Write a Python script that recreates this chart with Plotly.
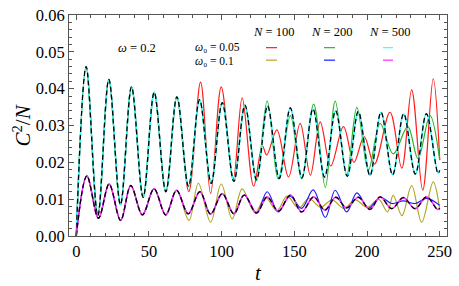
import plotly.graph_objects as go

# ---- data (extrema) ----
t_n500_a = [0, 6.8, 14.8, 22.4, 30.4, 38, 46, 53.6, 61.6, 69.2, 77.2, 84.8, 92.8, 100.4, 108.4, 116, 124,
            131.6, 139.6, 147.2, 155.2, 162.8, 170.8, 178.4, 186.4, 194, 202, 209.6, 217.6, 225.2, 233.2,
            240.8, 248.8, 250]
c_n500_a = [0, 0.046, 0.0055, 0.0425, 0.0085, 0.0405, 0.0105, 0.039, 0.012, 0.0378, 0.0135, 0.037, 0.0143,
            0.0362, 0.0148, 0.0355, 0.0152, 0.0353, 0.0156, 0.0348, 0.0158, 0.0345, 0.016, 0.034, 0.0162,
            0.0338, 0.0164, 0.0336, 0.0166, 0.0332, 0.0168, 0.0332, 0.017, 0.0178]

t_n100_a = [0, 6.8, 14.8, 22.4, 30.4, 38, 46, 53.6, 61.6, 69.2, 77.4, 85.5, 92.4, 99.7, 108, 114.1, 122,
            128, 131, 138, 146, 154, 161, 167.8, 175, 183.8, 191, 198, 205, 215.8, 223.9, 230.7, 238.3,
            245.5, 250]
c_n100_a = [0, 0.046, 0.0055, 0.0425, 0.0085, 0.0405, 0.0105, 0.039, 0.012, 0.0378, 0.012, 0.0418, 0.0115,
            0.0405, 0.0155, 0.0375, 0.0135, 0.0245, 0.022, 0.0288, 0.016, 0.0306, 0.0165, 0.031, 0.019,
            0.0297, 0.02, 0.027, 0.0195, 0.0336, 0.0184, 0.0397, 0.0124, 0.0427, 0.0206]

t_n200_a = [0, 6.8, 14.8, 22.4, 30.4, 38, 46, 53.6, 61.6, 69.2, 77.2, 84.8, 92.8, 100.4, 108.4, 116, 124,
            131.3, 139, 147.3, 155, 163.3, 171.3, 178.1, 186, 193, 201, 209, 218, 228, 235, 243.3, 250]
c_n200_a = [0, 0.046, 0.0055, 0.0425, 0.0085, 0.0405, 0.0105, 0.039, 0.012, 0.0378, 0.0135, 0.037, 0.0143,
            0.0362, 0.0148, 0.0355, 0.0155, 0.0366, 0.0155, 0.0327, 0.0155, 0.0358, 0.0132, 0.0366, 0.0165,
            0.0349, 0.018, 0.0306, 0.0223, 0.0297, 0.021, 0.0327, 0.0206]

t_n500_b = [0, 7.3, 15.3, 22.6, 30.5, 37.5, 45.5, 53.5, 61.5, 69, 77, 85, 92.4, 100.4, 108.4, 115.5, 124,
            131.3, 139, 147.3, 155, 163.3, 171, 178.5, 186, 194, 202, 209, 217, 225, 233, 241, 248.5, 250]
c_n500_b = [0, 0.0163, 0.0048, 0.0141, 0.0042, 0.0137, 0.0057, 0.0128, 0.0057, 0.0124, 0.006, 0.012, 0.0059,
            0.0115, 0.006, 0.0111, 0.0062, 0.0106, 0.0067, 0.0111, 0.0065, 0.0106, 0.007, 0.0105, 0.0076,
            0.0105, 0.0072, 0.0106, 0.0074, 0.0104, 0.0074, 0.0106, 0.0072, 0.0075]

t_n100_b = [0, 7.3, 15.3, 22.6, 30.5, 37.5, 45.5, 53.5, 61.5, 69, 77.5, 84, 92.4, 99.7, 107.3, 114.1, 123,
            130, 138, 145, 153, 160, 168, 176, 184, 192, 200, 208, 214, 218, 224, 230.7, 237.6, 245.5, 250]
c_n100_b = [0, 0.0163, 0.0048, 0.0141, 0.0042, 0.0137, 0.0057, 0.0128, 0.0057, 0.0124, 0.0042, 0.0143, 0.0037,
            0.0141, 0.0046, 0.0128, 0.0063, 0.0105, 0.0068, 0.0108, 0.0075, 0.0102, 0.0078, 0.0098, 0.0075,
            0.0098, 0.0078, 0.0099, 0.0065, 0.011, 0.0055, 0.0137, 0.0037, 0.0147, 0.007]

t_n200_b = [0, 7.3, 15.3, 22.6, 30.5, 37.5, 45.5, 53.5, 61.5, 69, 77, 85, 92.4, 100.4, 108.4, 115.5, 124,
            131.3, 139, 147, 155, 163, 171.3, 178.1, 186, 193, 201, 209, 217, 225, 233, 241, 250]
c_n200_b = [0, 0.0163, 0.0048, 0.0141, 0.0042, 0.0137, 0.0057, 0.0128, 0.0057, 0.0124, 0.006, 0.012, 0.0059,
            0.0115, 0.006, 0.0111, 0.0062, 0.012, 0.0065, 0.0108, 0.0075, 0.0125, 0.005, 0.0124, 0.0065,
            0.0117, 0.0075, 0.0105, 0.0088, 0.0095, 0.0088, 0.0102, 0.0083]

x_ticks = [0, 50, 100, 150, 200, 250]
y_ticks = [0.00, 0.01, 0.02, 0.03, 0.04, 0.05, 0.06]
y_tick_text = ["0.00", "0.01", "0.02", "0.03", "0.04", "0.05", "0.06"]

RED, GREEN, CYAN = "#ff1a1a", "#2ab32a", "#33ffff"
OLIVE, BLUE, MAGENTA = "#b0a624", "#1a1aff", "#ff2bff"

fig = go.Figure()

def add(t, c, color, width=1.2, dash=None):
    fig.add_trace(go.Scatter(x=t, y=c, mode="lines",
                             line=dict(color=color, width=width, shape="spline", smoothing=1.0,
                                       dash=dash if dash else "solid"),
                             showlegend=False, hoverinfo="skip"))

add(t_n100_a, c_n100_a, RED)
add(t_n200_a, c_n200_a, GREEN)
add(t_n500_a, c_n500_a, CYAN, 1.6)
add(t_n500_a, c_n500_a, "black", 1.3, "5px,3px")
add(t_n100_b, c_n100_b, OLIVE)
add(t_n200_b, c_n200_b, BLUE)
add(t_n500_b, c_n500_b, MAGENTA, 1.6)
add(t_n500_b, c_n500_b, "black", 1.3, "5px,3px")

# plot area in pixels
L, R, T, B = 69, 447, 6, 236
def px(x):
    return (x - L) / (R - L)
def py(y):
    return (B - y) / (B - T)

font_leg = dict(family="Liberation Serif", size=12.5, color="black")
font_leg_s = dict(family="Liberation Serif", size=11.5, color="black")
ann = [
    dict(text="<i>ω</i> = 0.2", x=px(116), y=py(40), xanchor="left", font=font_leg),
    dict(text="<i>ω</i>₀ = 0.05", x=px(193), y=py(39.5), xanchor="left", font=font_leg_s),
    dict(text="<i>ω</i>₀ = 0.1", x=px(193), y=py(53.5), xanchor="left", font=font_leg_s),
    dict(text="<i>N</i> = 100", x=px(273), y=py(24), xanchor="center", font=font_leg),
    dict(text="<i>N</i> = 200", x=px(331), y=py(24), xanchor="center", font=font_leg),
    dict(text="<i>N</i> = 500", x=px(389), y=py(24), xanchor="center", font=font_leg),
]
for a in ann:
    fig.add_annotation(xref="paper", yref="paper", yanchor="middle", showarrow=False, **a)

samples = [(266, 277, 40, RED), (324, 335, 40, GREEN), (383, 393, 40, CYAN),
           (266, 277, 53, OLIVE), (324, 335, 53, BLUE), (383, 393, 53, MAGENTA)]
for x0, x1, y0, col in samples:
    fig.add_shape(type="line", xref="paper", yref="paper", x0=px(x0), x1=px(x1), y0=py(y0), y1=py(y0),
                  line=dict(color=col, width=1.2))

tickfont = dict(family="Liberation Serif", size=16.5, color="black")
axis_common = dict(showgrid=False, zeroline=False, showline=True, linecolor="#555", linewidth=1,
                   mirror="ticks", ticks="inside", ticklen=5, tickcolor="#555", tickfont=tickfont,
                   ticklabeloverflow="allow")

fig.update_xaxes(range=[-5, 255], tickvals=x_ticks, **axis_common,
                 minor=dict(ticks="inside", ticklen=3, dtick=10, tickcolor="#555", showgrid=False))
fig.update_yaxes(range=[-0.00003, 0.06003], tickvals=y_ticks, ticktext=y_tick_text, **axis_common,
                 minor=dict(ticks="inside", ticklen=3, dtick=0.002, tickcolor="#555", showgrid=False))

# axis titles
fig.add_annotation(xref="paper", yref="paper", x=px(258), y=py(275), text="<i>t</i>", showarrow=False,
                   xanchor="center", yanchor="middle",
                   font=dict(family="Liberation Serif", size=21, color="black"))
fig.add_annotation(xref="paper", yref="paper", x=px(22), y=py(121), text="<i>C</i><sup>2</sup>/<i>N</i>",
                   showarrow=False, textangle=-90, xanchor="center", yanchor="middle",
                   font=dict(family="Liberation Serif", size=21, color="black"))

fig.update_layout(width=459, height=286, margin=dict(l=L, r=459 - R, t=T, b=286 - B),
                  plot_bgcolor="white", paper_bgcolor="white")

fig.write_html("out.html", config={"displayModeBar": False},
               post_script="document.body.style.margin='0';document.body.style.overflow='hidden';")
